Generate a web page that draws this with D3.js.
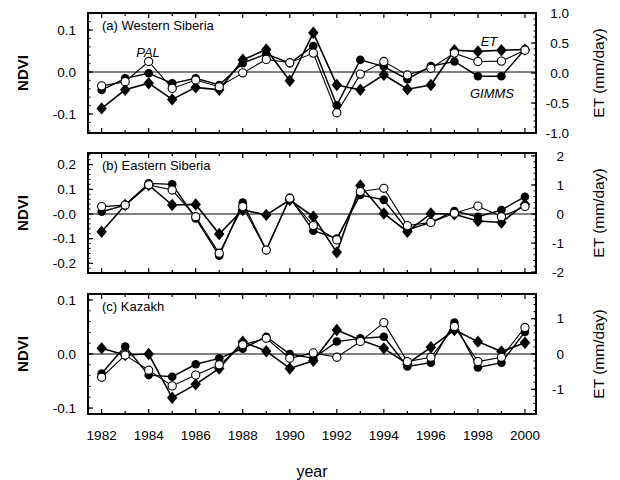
<!DOCTYPE html>
<html><head><meta charset="utf-8">
<script src="https://cdn.jsdelivr.net/npm/d3@7"></script>
<style>body{margin:0;background:#fff}svg{display:block}</style>
</head><body><svg id="c" width="620" height="480"></svg>
<script>
// ---------- DATA ----------
const years = [1982,1983,1984,1985,1986,1987,1988,1989,1990,1991,1992,1993,1994,1995,1996,1997,1998,1999,2000];
const yearTickLabels = [1982,1984,1986,1988,1990,1992,1994,1996,1998,2000];
const panelTitles = ["(a) Western Siberia","(b) Eastern Siberia","(c) Kazakh"];

// (a) Western Siberia
const palA   = [-0.033,-0.023,0.025,-0.039,-0.019,-0.035,-0.002,0.030,0.022,0.045,-0.097,-0.005,0.025,-0.007,0.009,0.045,0.025,0.026,0.052];
const gimmsA = [-0.043,-0.015,-0.003,-0.027,-0.015,-0.031,0.021,0.043,0.021,0.062,-0.079,0.029,0.013,-0.017,0.014,0.025,-0.010,-0.010,0.054];
const etA    = [-0.59,-0.28,-0.17,-0.44,-0.24,-0.28,0.22,0.39,-0.13,0.67,-0.20,-0.28,-0.03,-0.27,-0.20,0.38,0.36,0.38,0.39];
// (b) Eastern Siberia
const palB   = [0.030,0.036,0.118,0.097,-0.011,-0.159,0.030,-0.146,0.064,-0.047,-0.105,0.091,0.104,-0.047,-0.034,0.003,0.032,-0.011,0.030];
const gimmsB = [0.009,0.036,0.124,0.120,-0.018,-0.169,0.046,-0.146,0.066,-0.068,-0.099,0.077,0.057,-0.065,-0.034,0.012,-0.011,0.016,0.070];
const etB    = [-0.61,0.31,1.00,0.31,0.33,-0.69,0.14,-0.03,0.48,-0.09,-1.32,0.98,0.02,-0.61,0.02,-0.01,-0.24,-0.29,0.34];
// (c) Kazakh
const palC   = [-0.043,-0.002,-0.030,-0.059,-0.039,-0.020,0.017,0.029,-0.008,0.002,-0.006,0.023,0.058,-0.014,-0.006,0.051,-0.014,-0.006,0.049];
const gimmsC = [-0.036,0.014,-0.039,-0.042,-0.019,-0.008,0.010,0.032,0.000,-0.008,0.023,0.029,0.032,-0.023,-0.016,0.058,-0.025,-0.016,0.041];
const etC    = [0.16,-0.03,0.00,-1.24,-0.86,-0.41,0.35,0.08,-0.41,-0.19,0.68,0.40,0.16,-0.28,0.19,0.68,0.35,0.07,0.32];

const ndviTicksA = [-0.1,0,0.1], ndviLabelsA = ["-0.1","0.0","0.1"];
const etTicksA = [-1,-0.5,0,0.5,1], etLabelsA = ["-1.0","-0.5","0.0","0.5","1.0"];
const ndviTicksB = [-0.2,-0.1,0,0.1,0.2], ndviLabelsB = ["-0.2","-0.1","-0.0","0.1","0.2"];
const etTicksB = [-2,-1,0,1,2], etLabelsB = ["-2","-1","0","1","2"];
const ndviTicksC = [-0.1,0,0.1], ndviLabelsC = ["-0.1","0.0","0.1"];
const etTicksC = [-1,0,1], etLabelsC = ["-1","0","1"];

// ---------- LAYOUT ----------
const svg = d3.select("#c");
const FONT = "'Liberation Sans', Arial, Helvetica, sans-serif";
const left = 88, right = 536;
const x = d3.scaleLinear().domain([1981.42, 2000.47]).range([left, right]);

const panels = [
  {top:13, bottom:133, ndvi:[-0.1452,0.1405], et:[-1,1], pal:palA, gimms:gimmsA, et_v:etA,
   nt:ndviTicksA, nl:ndviLabelsA, nminor:0.02, etT:etTicksA, etL:etLabelsA, eminor:0.1, etEnd:569},
  {top:153, bottom:273, ndvi:[-0.239,0.247], et:[-2.03,2.10], pal:palB, gimms:gimmsB, et_v:etB,
   nt:ndviTicksB, nl:ndviLabelsB, nminor:0.02, etT:etTicksB, etL:etLabelsB, eminor:0.2, etEnd:564},
  {top:294, bottom:414, ndvi:[-0.111,0.111], et:[-1.70,1.70], pal:palC, gimms:gimmsC, et_v:etC,
   nt:ndviTicksC, nl:ndviLabelsC, nminor:0.02, etT:etTicksC, etL:etLabelsC, eminor:0.2, etEnd:564}
];

function diamondPath(cx, cy){
  const w = 5.2, h = 6.2;
  return `M${cx},${cy-h}L${cx+w},${cy}L${cx},${cy+h}L${cx-w},${cy}Z`;
}

panels.forEach((p, i) => {
  const yN = d3.scaleLinear().domain(p.ndvi).range([p.bottom, p.top]);
  const yE = d3.scaleLinear().domain(p.et).range([p.bottom, p.top]);
  const g = svg.append("g");

  // zero line
  g.append("line").attr("x1", left).attr("x2", right)
    .attr("y1", yN(0)).attr("y2", yN(0)).attr("stroke", "#000").attr("stroke-width", 1);

  // ticks: left (NDVI) major + minor inward
  const nMinor = d3.range(Math.ceil(p.ndvi[0]/p.nminor)*p.nminor, p.ndvi[1], p.nminor);
  nMinor.forEach(v => g.append("line").attr("x1", left).attr("x2", left+2.5)
    .attr("y1", yN(v)).attr("y2", yN(v)).attr("stroke","#000").attr("stroke-width",1));
  p.nt.forEach((v, k) => {
    g.append("line").attr("x1", left).attr("x2", left+5)
      .attr("y1", yN(v)).attr("y2", yN(v)).attr("stroke","#000").attr("stroke-width",1.2);
    g.append("text").attr("x", 76).attr("y", yN(v)).attr("dy","0.35em")
      .attr("text-anchor","end").attr("font-family",FONT).attr("font-size",13.5).text(p.nl[k]);
  });
  // right (ET)
  const eMinor = d3.range(Math.ceil(p.et[0]/p.eminor)*p.eminor, p.et[1], p.eminor);
  eMinor.forEach(v => g.append("line").attr("x1", right).attr("x2", right-2.5)
    .attr("y1", yE(v)).attr("y2", yE(v)).attr("stroke","#000").attr("stroke-width",1));
  p.etT.forEach((v, k) => {
    g.append("line").attr("x1", right).attr("x2", right-5)
      .attr("y1", yE(v)).attr("y2", yE(v)).attr("stroke","#000").attr("stroke-width",1.2);
    g.append("text").attr("x", p.etEnd).attr("y", yE(v)).attr("dy","0.35em")
      .attr("text-anchor","end").attr("font-family",FONT).attr("font-size",13.5).text(p.etL[k]);
  });
  // top/bottom year ticks
  years.forEach(yr => {
    const len = (yr % 2 === 0) ? 5 : 3;
    g.append("line").attr("x1", x(yr)).attr("x2", x(yr)).attr("y1", p.bottom).attr("y2", p.bottom-len)
      .attr("stroke","#000").attr("stroke-width",1.2);
    g.append("line").attr("x1", x(yr)).attr("x2", x(yr)).attr("y1", p.top).attr("y2", p.top+len)
      .attr("stroke","#000").attr("stroke-width",1.2);
  });

  // lines
  const lineN = d3.line().x((d, k) => x(years[k])).y(d => yN(d));
  const lineE = d3.line().x((d, k) => x(years[k])).y(d => yE(d));
  g.append("path").attr("d", lineE(p.et_v)).attr("fill","none").attr("stroke","#000").attr("stroke-width",1.6);
  g.append("path").attr("d", lineN(p.gimms)).attr("fill","none").attr("stroke","#000").attr("stroke-width",1.4);
  g.append("path").attr("d", lineN(p.pal)).attr("fill","none").attr("stroke","#000").attr("stroke-width",1.1);

  // markers
  p.et_v.forEach((v, k) => g.append("path").attr("d", diamondPath(x(years[k]), yE(v))).attr("fill","#000"));
  p.gimms.forEach((v, k) => g.append("circle").attr("cx", x(years[k])).attr("cy", yN(v)).attr("r", 4.3).attr("fill","#000"));
  p.pal.forEach((v, k) => g.append("circle").attr("cx", x(years[k])).attr("cy", yN(v)).attr("r", 4.1)
    .attr("fill","#fff").attr("stroke","#000").attr("stroke-width",1.1));

  // frame
  g.append("rect").attr("x", left).attr("y", p.top).attr("width", right-left).attr("height", p.bottom-p.top)
    .attr("fill","none").attr("stroke","#000").attr("stroke-width",2);

  // title
  g.append("text").attr("x", left+14).attr("y", p.top+17).attr("font-family",FONT).attr("font-size",13)
    .text(panelTitles[i]);

  // axis titles
  const cy = (p.top + p.bottom)/2;
  g.append("text").attr("transform", `translate(28,${cy}) rotate(-90)`).attr("text-anchor","middle")
    .attr("font-family",FONT).attr("font-size",15).attr("font-weight","bold").text("NDVI");
  g.append("text").attr("transform", `translate(604,${cy}) rotate(-90)`).attr("text-anchor","middle")
    .attr("font-family",FONT).attr("font-size",15.5).text("ET (mm/day)");
});

// series labels in panel (a)
const lab = (t, xx, yy) => svg.append("text").attr("x", xx).attr("y", yy).attr("text-anchor","middle")
  .attr("font-family",FONT).attr("font-size",13).attr("font-style","italic").text(t);
lab("PAL", 148, 57);
lab("ET", 489, 46);
lab("GIMMS", 492, 98);

// year labels
yearTickLabels.forEach(yr => svg.append("text").attr("x", x(yr)).attr("y", 440).attr("text-anchor","middle")
  .attr("font-family",FONT).attr("font-size",13.5).text(yr));
svg.append("text").attr("x", 312).attr("y", 477).attr("text-anchor","middle")
  .attr("font-family",FONT).attr("font-size",16).text("year");
</script></body></html>
